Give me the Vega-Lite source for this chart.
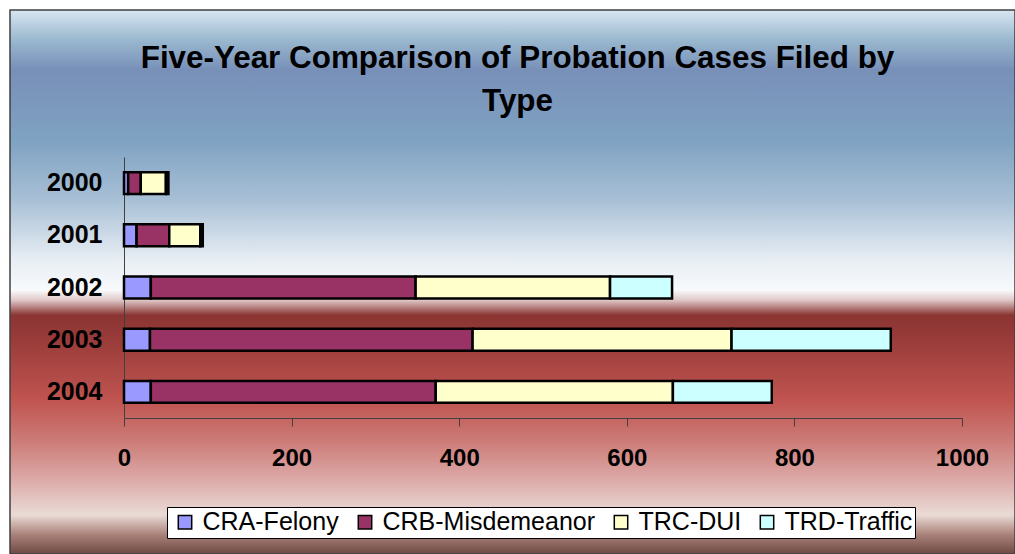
{
  "$schema": "https://vega.github.io/schema/vega-lite/v6.json",
  "width": 1005,
  "height": 544,
  "autosize": {"type": "none"},
  "padding": {"left": 10, "top": 10, "right": 0, "bottom": 0},
  "background": "white",
  "view": {
    "stroke": "#404040",
    "strokeWidth": 1.5,
    "fill": {
      "gradient": "linear",
      "x1": 0, "y1": 0, "x2": 0, "y2": 1,
      "stops": [
        {"offset": 0.0, "color": "#d8e6f2"},
        {"offset": 0.055, "color": "#9ab8cf"},
        {"offset": 0.11, "color": "#7890b8"},
        {"offset": 0.24, "color": "#7fa2c2"},
        {"offset": 0.35, "color": "#a8c0d6"},
        {"offset": 0.46, "color": "#e8eef4"},
        {"offset": 0.515, "color": "#f8fafc"},
        {"offset": 0.533, "color": "#e0c8c8"},
        {"offset": 0.561, "color": "#8a3532"},
        {"offset": 0.597, "color": "#963a38"},
        {"offset": 0.717, "color": "#c05450"},
        {"offset": 0.79, "color": "#cc7a76"},
        {"offset": 0.864, "color": "#dcaaa8"},
        {"offset": 0.928, "color": "#eadbd6"},
        {"offset": 0.965, "color": "#a88078"},
        {"offset": 1.0, "color": "#6e4a44"}
      ]
    }
  },
  "title": {
    "text": ["Five-Year Comparison of Probation Cases Filed by", "Type"],
    "font": "Liberation Sans",
    "fontSize": 31.4,
    "fontWeight": "bold",
    "color": "black",
    "lineHeight": 43,
    "anchor": "middle",
    "orient": "top",
    "offset": -107,
    "dx": 5
  },
  "data": {
    "values": [
      {"year": "2000", "type": "CRA-Felony", "cases": 5},
      {"year": "2000", "type": "CRB-Misdemeanor", "cases": 15},
      {"year": "2000", "type": "TRC-DUI", "cases": 30},
      {"year": "2000", "type": "TRD-Traffic", "cases": 3},
      {"year": "2001", "type": "CRA-Felony", "cases": 15},
      {"year": "2001", "type": "CRB-Misdemeanor", "cases": 39},
      {"year": "2001", "type": "TRC-DUI", "cases": 37},
      {"year": "2001", "type": "TRD-Traffic", "cases": 3},
      {"year": "2002", "type": "CRA-Felony", "cases": 32},
      {"year": "2002", "type": "CRB-Misdemeanor", "cases": 316},
      {"year": "2002", "type": "TRC-DUI", "cases": 232},
      {"year": "2002", "type": "TRD-Traffic", "cases": 74},
      {"year": "2003", "type": "CRA-Felony", "cases": 31},
      {"year": "2003", "type": "CRB-Misdemeanor", "cases": 385},
      {"year": "2003", "type": "TRC-DUI", "cases": 309},
      {"year": "2003", "type": "TRD-Traffic", "cases": 190},
      {"year": "2004", "type": "CRA-Felony", "cases": 32},
      {"year": "2004", "type": "CRB-Misdemeanor", "cases": 340},
      {"year": "2004", "type": "TRC-DUI", "cases": 283},
      {"year": "2004", "type": "TRD-Traffic", "cases": 118}
    ]
  },
  "mark": {"type": "bar", "stroke": "black", "strokeWidth": 2.5},
  "encoding": {
    "y": {
      "field": "year",
      "type": "ordinal",
      "scale": {"range": [147, 408], "paddingInner": 0.58, "paddingOuter": 0.29},
      "axis": {
        "title": null,
        "orient": "left",
        "offset": -114,
        "domainColor": "#404040",
        "domainWidth": 1,
        "ticks": false,
        "labelFont": "Liberation Sans",
        "labelFontSize": 25,
        "labelFontWeight": "bold",
        "labelColor": "black",
        "labelPadding": 22
      }
    },
    "x": {
      "field": "cases",
      "type": "quantitative",
      "stack": "zero",
      "scale": {"domain": [0, 1000], "range": [114, 952], "nice": false, "zero": true},
      "axis": {
        "title": null,
        "orient": "bottom",
        "offset": -136,
        "values": [0, 200, 400, 600, 800, 1000],
        "format": "d",
        "grid": false,
        "domainColor": "#404040",
        "domainWidth": 1,
        "tickColor": "#404040",
        "tickSize": 8,
        "labelFont": "Liberation Sans",
        "labelFontSize": 24,
        "labelFontWeight": "bold",
        "labelColor": "black",
        "labelPadding": 20,
        "labelFlush": false
      }
    },
    "color": {
      "field": "type",
      "type": "nominal",
      "scale": {
        "domain": ["CRA-Felony", "CRB-Misdemeanor", "TRC-DUI", "TRD-Traffic"],
        "range": ["#9999ff", "#993366", "#ffffcc", "#ccffff"]
      },
      "legend": {
        "title": null,
        "orient": "none",
        "direction": "horizontal",
        "columns": 4,
        "legendX": 157,
        "legendY": 497,
        "fillColor": "white",
        "strokeColor": "black",
        "padding": 2.5,
        "symbolType": "square",
        "symbolSize": 180,
        "symbolStrokeColor": "black",
        "symbolStrokeWidth": 1.5,
        "symbolOpacity": 1,
        "labelFont": "Liberation Sans",
        "labelFontSize": 25,
        "labelColor": "black",
        "labelLimit": 400,
        "labelOffset": 5,
        "columnPadding": 10,
        "symbolOffset": 3
      }
    },
    "order": {"field": "type", "sort": "ascending"}
  }
}
